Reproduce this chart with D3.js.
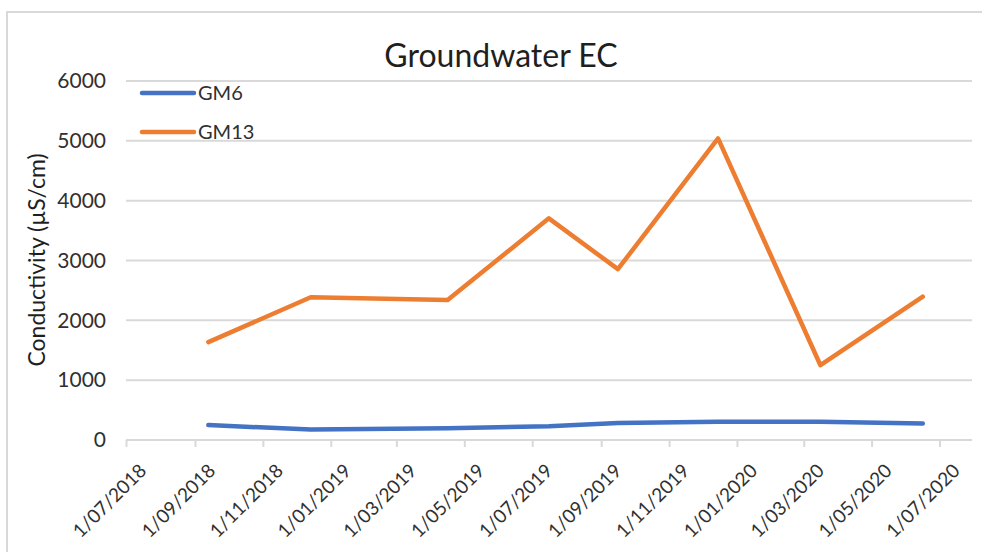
<!DOCTYPE html>
<html>
<head>
<meta charset="utf-8">
<script src="https://cdn.jsdelivr.net/npm/d3@7"></script>
<style>
  body { margin: 0; background: #fff; }
  text { font-family: Lato, "Open Sans", sans-serif; }
</style>
</head>
<body>
<div id="chart"></div>
<script>
var sampleDates = ["2018-09-13", "2018-12-14", "2019-04-16", "2019-07-16",
                   "2019-09-16", "2019-12-15", "2020-03-16", "2020-06-16"];
var gm6  = [250, 175, 195, 230, 285, 305, 305, 275];
var gm13 = [1635, 2385, 2340, 3705, 2855, 5040, 1250, 2395];
var seriesNames  = ["GM6", "GM13"];
var seriesColors = ["#4472C4", "#ED7D31"];
var yTicks = [0, 1000, 2000, 3000, 4000, 5000, 6000];
var xTickLabels = ["1/07/2018", "1/09/2018", "1/11/2018", "1/01/2019", "1/03/2019",
                   "1/05/2019", "1/07/2019", "1/09/2019", "1/11/2019", "1/01/2020",
                   "1/03/2020", "1/05/2020", "1/07/2020"];

var width = 982, height = 552;
var parseIso = d3.utcParse("%Y-%m-%d");
var parseTick = d3.utcParse("%d/%m/%Y");
var fmtTick = d3.utcFormat("%-d/%m/%Y");

var svg = d3.select("#chart").append("svg")
    .attr("width", width)
    .attr("height", height);

// outer chart border
svg.append("rect")
    .attr("x", 7).attr("y", 12)
    .attr("width", 990).attr("height", 560)
    .attr("fill", "none")
    .attr("stroke", "#d9d9d9")
    .attr("stroke-width", 2);

var x = d3.scaleUtc()
    .domain([parseIso("2018-07-01"), parseIso("2020-08-01")])
    .range([126, 974]);

var y = d3.scaleLinear()
    .domain([0, 6000])
    .range([440, 81]);

// gridlines
svg.append("g")
    .selectAll("line")
    .data(yTicks.filter(function(d) { return d > 0; }))
    .enter().append("line")
    .attr("x1", x.range()[0]).attr("x2", 972)
    .attr("y1", function(d) { return y(d); })
    .attr("y2", function(d) { return y(d); })
    .attr("stroke", "#d9d9d9")
    .attr("stroke-width", 2);

// y axis labels
var yAxis = d3.axisLeft(y).tickValues(yTicks).tickFormat(d3.format("d"))
    .tickSize(0).tickPadding(20);
var gy = svg.append("g").attr("transform", "translate(126,0)").call(yAxis);
gy.select(".domain").remove();
gy.selectAll("text")
    .attr("font-family", "Lato, sans-serif")
    .attr("font-size", 21)
    .attr("fill", "#303030");

// x axis
var xAxis = d3.axisBottom(x)
    .tickValues(xTickLabels.map(function(s) { return parseTick(s); }))
    .tickFormat(fmtTick)
    .tickSize(7)
    .tickSizeOuter(0);
var gx = svg.append("g").attr("transform", "translate(0,440)").call(xAxis);
gx.select(".domain")
    .attr("d", "M126,0H972")
    .attr("stroke", "#d9d9d9")
    .attr("stroke-width", 2);
gx.selectAll(".tick line").attr("stroke", "#d9d9d9").attr("stroke-width", 2);
gx.selectAll(".tick text")
    .attr("font-family", "Lato, sans-serif")
    .attr("font-size", 19)
    .attr("fill", "#303030")
    .attr("text-anchor", "end")
    .attr("dy", null)
    .attr("y", 0)
    .attr("transform", "translate(21,32) rotate(-45)");

// lines
var line = d3.line()
    .x(function(d) { return x(d.date); })
    .y(function(d) { return y(d.value); });

[gm6, gm13].forEach(function(vals, i) {
    var pts = vals.map(function(v, j) { return {date: parseIso(sampleDates[j]), value: v}; });
    svg.append("path")
        .datum(pts)
        .attr("d", line)
        .attr("fill", "none")
        .attr("stroke", seriesColors[i])
        .attr("stroke-width", 4.5)
        .attr("stroke-linejoin", "round")
        .attr("stroke-linecap", "round");
});

// legend
var legend = svg.append("g").selectAll("g")
    .data(seriesNames)
    .enter().append("g")
    .attr("transform", function(d, i) { return "translate(142," + (93 + i * 39) + ")"; });
legend.append("line")
    .attr("x1", 0).attr("x2", 52)
    .attr("stroke", function(d, i) { return seriesColors[i]; })
    .attr("stroke-width", 4.5)
    .attr("stroke-linecap", "round");
legend.append("text")
    .attr("x", 56).attr("dy", "0.35em")
    .attr("font-size", 20)
    .attr("fill", "#303030")
    .text(function(d) { return d; });

// title
svg.append("text")
    .attr("x", 501).attr("y", 67)
    .attr("text-anchor", "middle")
    .attr("font-size", 32)
    .attr("fill", "#1f1f1f")
    .text("Groundwater EC");

// y label
svg.append("text")
    .attr("transform", "translate(45,260) rotate(-90)")
    .attr("text-anchor", "middle")
    .attr("font-size", 23)
    .attr("fill", "#1f1f1f")
    .text("Conductivity (µS/cm)");
</script>
</body>
</html>
